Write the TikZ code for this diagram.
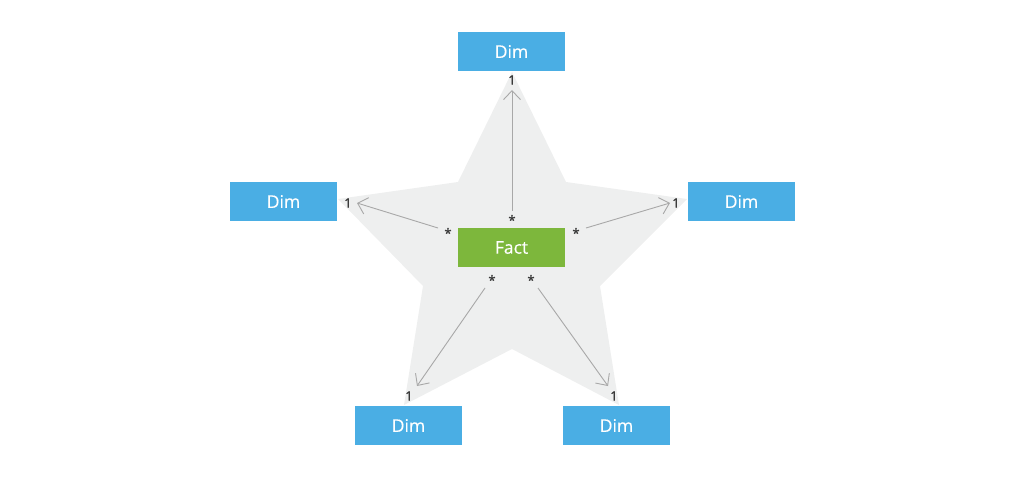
\documentclass[tikz,border=0pt]{standalone}
\usepackage{fontspec}
\setmainfont{Open Sans}
\newfontfamily\labelfont[FakeBold=1.2]{Open Sans}
\newfontfamily\boxfont[FakeBold=0.4]{Open Sans}
\usetikzlibrary{arrows.meta}
\definecolor{dimblue}{HTML}{4AAEE4}
\definecolor{factgreen}{HTML}{7DB73C}
\definecolor{stargray}{HTML}{EEEFEF}
\definecolor{linegray}{HTML}{A8A8A8}
\definecolor{labelgray}{HTML}{3A3A3A}
\tikzset{
  box/.style={minimum width=107pt, minimum height=39pt, inner sep=0pt, text=white, font=\boxfont\fontsize{17.5}{17.5}\selectfont},
  dimbox/.style={box, fill=dimblue},
  factbox/.style={box, fill=factgreen},
  conn/.style={draw=linegray, line width=0.9pt, -{Straight Barb[length=9pt,width=17pt,line width=0.9pt]}},
  mult/.style={text=labelgray, font=\labelfont\fontsize{13}{13}\selectfont, inner sep=0pt}
}
\begin{document}
\begin{tikzpicture}[x=1pt,y=-1pt]
\useasboundingbox (0,0) rectangle (1024,478);
\fill[stargray] (512,72) -- (566,182) -- (687,199) -- (600,286) -- (619,405) -- (512,349) -- (404,405) -- (423,286) -- (338,199) -- (458,182) -- cycle;
\node[dimbox] (top) at (511.5,51.5) {Dim};
\node[dimbox] (left) at (283.5,201.5) {Dim};
\node[dimbox] (right) at (741.5,201.5) {Dim};
\node[dimbox] (bl) at (408.5,425.5) {Dim};
\node[dimbox] (br) at (616.5,425.5) {Dim};
\node[factbox] (fact) at (511.5,247.5) {Fact};
\coordinate (ts) at (512,211);
\coordinate (te) at (512,90);
\coordinate (ls) at (438,228);
\coordinate (le) at (357,203);
\coordinate (rs) at (586,228);
\coordinate (re) at (670,203);
\coordinate (bls) at (485,288);
\coordinate (ble) at (417,386);
\coordinate (brs) at (538,288);
\coordinate (bre) at (608,386);
\draw[conn] (ts) -- (te);
\draw[conn] (ls) -- (le);
\draw[conn] (rs) -- (re);
\draw[conn] (bls) -- (ble);
\draw[conn] (brs) -- (bre);
\node[mult] (t1) at (512,80) {1};
\node[mult] (ts1) at (512,220) {*};
\node[mult] (l1) at (348,203) {1};
\node[mult] (ls1) at (448,233) {*};
\node[mult] (r1) at (676,203) {1};
\node[mult] (rs1) at (576,233) {*};
\node[mult] (bl1) at (409,396) {1};
\node[mult] (bls1) at (492,280) {*};
\node[mult] (br1) at (614,396) {1};
\node[mult] (brs1) at (531,280) {*};
\end{tikzpicture}
\end{document}
